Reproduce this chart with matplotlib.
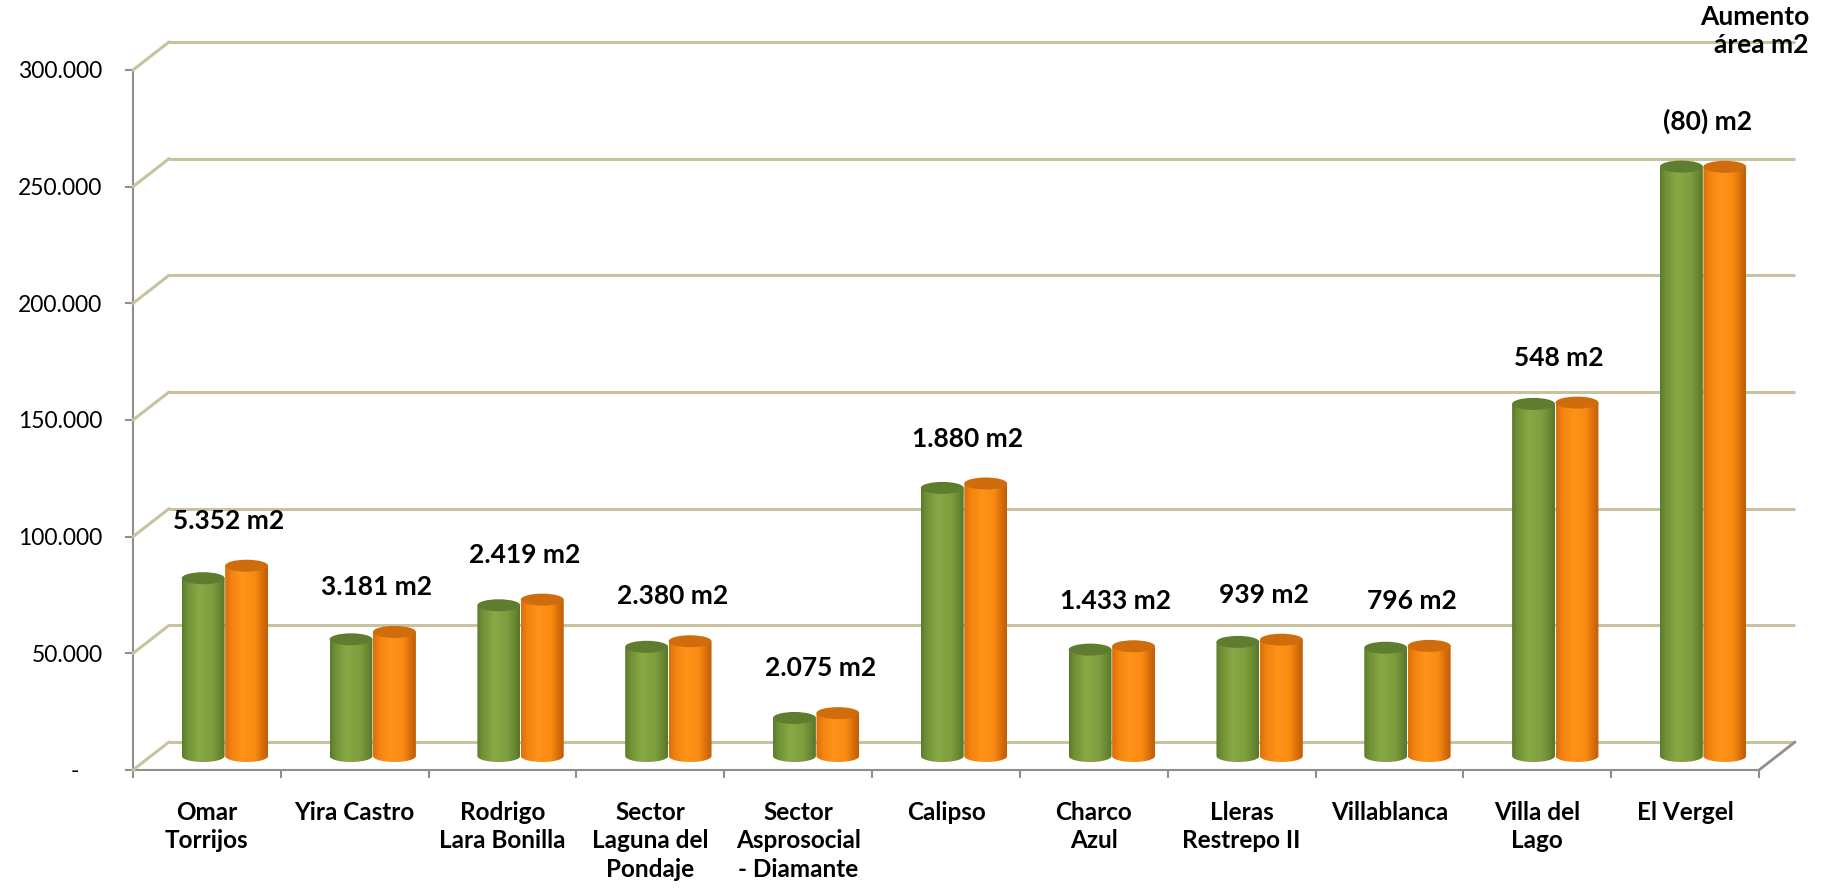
import numpy as np
import matplotlib
matplotlib.use("Agg")
import matplotlib.pyplot as plt
from matplotlib.transforms import ScaledTranslation
from matplotlib.patches import Ellipse, PathPatch, ConnectionPatch
from matplotlib.path import Path
from matplotlib.colors import LinearSegmentedColormap
from matplotlib.ticker import FuncFormatter, FixedLocator

# ---------------- data ----------------
categories = ["Omar\nTorrijos", "Yira Castro", "Rodrigo\nLara Bonilla",
              "Sector\nLaguna del\nPondaje", "Sector\nAsprosocial\n- Diamante",
              "Calipso", "Charco\nAzul", "Lleras\nRestrepo II", "Villablanca",
              "Villa del\nLago", "El Vergel"]
area_before = [76200, 50000, 64600, 46800, 16300, 114900, 45600, 48900, 46400, 150900, 252600]
area_after = [81552, 53181, 67019, 49180, 18375, 116780, 47033, 49839, 47196, 151448, 252520]
area_increase = [5352, 3181, 2419, 2380, 2075, 1880, 1433, 939, 796, 548, -80]
y_ticks = [0, 50000, 100000, 150000, 200000, 250000, 300000]

# ---------------- style ----------------
FONT = "Lato"
plt.rcParams["font.family"] = [FONT, "DejaVu Sans"]
DPI = 100
W, H = 1829, 889
GRID = "#C9C29F"
AXC = "#8F8F8F"
LBL = 17.5
DLBL = 19

fig = plt.figure(figsize=(W / DPI, H / DPI), dpi=DPI)
left, right, top, bottom = 133, 1759, 70, 770
ax = fig.add_axes([left / W, 1 - bottom / H, (right - left) / W, (bottom - top) / H])
ax.set_facecolor("none")

n = len(categories)


def shift(dx, dy):
    return ax.transData + ScaledTranslation(dx / DPI, dy / DPI, fig.dpi_scale_trans)


back = shift(36, 28)
mid = shift(18, 14)

ax.set_xlim(0, n)
ax.set_ylim(0, 300000)

# back-wall gridlines and left-wall diagonals
for v in y_ticks:
    ax.plot([0, n], [v, v], transform=back, color=GRID, lw=2.2, clip_on=False, zorder=1,
            solid_capstyle="butt")
    cp = ConnectionPatch(xyA=(0, v), coordsA=ax.transData, xyB=(0, v), coordsB=back,
                         color=GRID, lw=2.2, zorder=1)
    fig.add_artist(cp)
# right floor diagonal
cp = ConnectionPatch(xyA=(n, 0), coordsA=ax.transData, xyB=(n, 0), coordsB=back,
                     color=AXC, lw=2, zorder=3)
fig.add_artist(cp)

# cylinders
px_per_y = (bottom - top) / 300000.0
eh = 12 / px_per_y
bw = 0.29
green_cmap = LinearSegmentedColormap.from_list(
    "g", [(0, "#5B7A2A"), (0.12, "#6F9035"), (0.4, "#88A945"), (0.7, "#7E9E3F"), (0.92, "#63832F"), (1, "#56752A")])
orange_cmap = LinearSegmentedColormap.from_list(
    "o", [(0, "#D9700C"), (0.15, "#F3820F"), (0.4, "#FF9419"), (0.7, "#F98A12"), (0.9, "#D26A0A"), (1, "#BF5E08")])
grad = np.linspace(0, 1, 256).reshape(1, -1)

series = [(area_before, -0.147, green_cmap, "#5E7D2E"),
          (area_after, 0.147, orange_cmap, "#CF6D0C")]
for i in range(n):
    for vals, off, cmap, topc in series:
        v = vals[i]
        cx = i + 0.5 + off
        x0, x1 = cx - bw / 2, cx + bw / 2
        t = np.linspace(np.pi, 2 * np.pi, 60)
        arc = np.column_stack([cx + bw / 2 * np.cos(t), eh / 2 * np.sin(t)])
        verts = np.vstack([[x0, v], arc, [x1, v], [x0, v]])
        codes = [Path.MOVETO] + [Path.LINETO] * (len(verts) - 2) + [Path.CLOSEPOLY]
        patch = PathPatch(Path(verts, codes), transform=mid, facecolor="none",
                          edgecolor="none", zorder=4)
        ax.add_patch(patch)
        im = ax.imshow(grad, extent=(x0, x1, -eh / 2, v), transform=mid, cmap=cmap,
                       aspect="auto", zorder=4, interpolation="bilinear")
        im.set_clip_path(patch)
        ax.add_patch(Ellipse((cx, v), bw, eh, transform=mid, facecolor=topc,
                             edgecolor="none", zorder=5))

ax.set_xlim(0, n)
ax.set_ylim(0, 300000)


def fmt_num(x):
    return f"{abs(int(round(x))):,}".replace(",", ".")


# data labels
for i in range(n):
    d = area_increase[i]
    txt = f"({fmt_num(d)}) m2" if d < 0 else f"{fmt_num(d)} m2"
    ytop = max(area_before[i], area_after[i])
    ax.text(i + 0.5, ytop, txt, transform=shift(22, 59), ha="center", va="center",
            fontsize=DLBL, fontweight="bold", color="black", clip_on=False, zorder=6)

# axes styling
for s in ["top", "right"]:
    ax.spines[s].set_visible(False)
for s in ["left", "bottom"]:
    ax.spines[s].set_color(AXC)
    ax.spines[s].set_linewidth(1.5)
    ax.spines[s].set_zorder(3)

ax.yaxis.set_major_locator(FixedLocator(y_ticks))
ax.yaxis.set_major_formatter(FuncFormatter(lambda x, p: "-    " if x == 0 else fmt_num(x)))
ax.tick_params(axis="y", length=6, width=1.5, color=AXC, labelsize=16.5, pad=16)

ax.xaxis.set_major_locator(FixedLocator(np.arange(0, n + 1)))
ax.xaxis.set_major_formatter(FuncFormatter(lambda x, p: ""))
ax.set_xticks(np.arange(n) + 0.5, minor=True)
ax.set_xticklabels(categories, minor=True, fontweight="bold", fontsize=LBL, linespacing=1.3)
ax.tick_params(axis="x", which="major", length=6, width=1.5, color=AXC)
ax.tick_params(axis="x", which="minor", length=0, pad=22)

fig.text(1809 / W, 1 - 5 / H, "Aumento\nárea m2", ha="right", va="top",
         fontsize=DLBL, fontweight="bold", linespacing=1.2)

fig.savefig("out.png", dpi=DPI, facecolor="white")
